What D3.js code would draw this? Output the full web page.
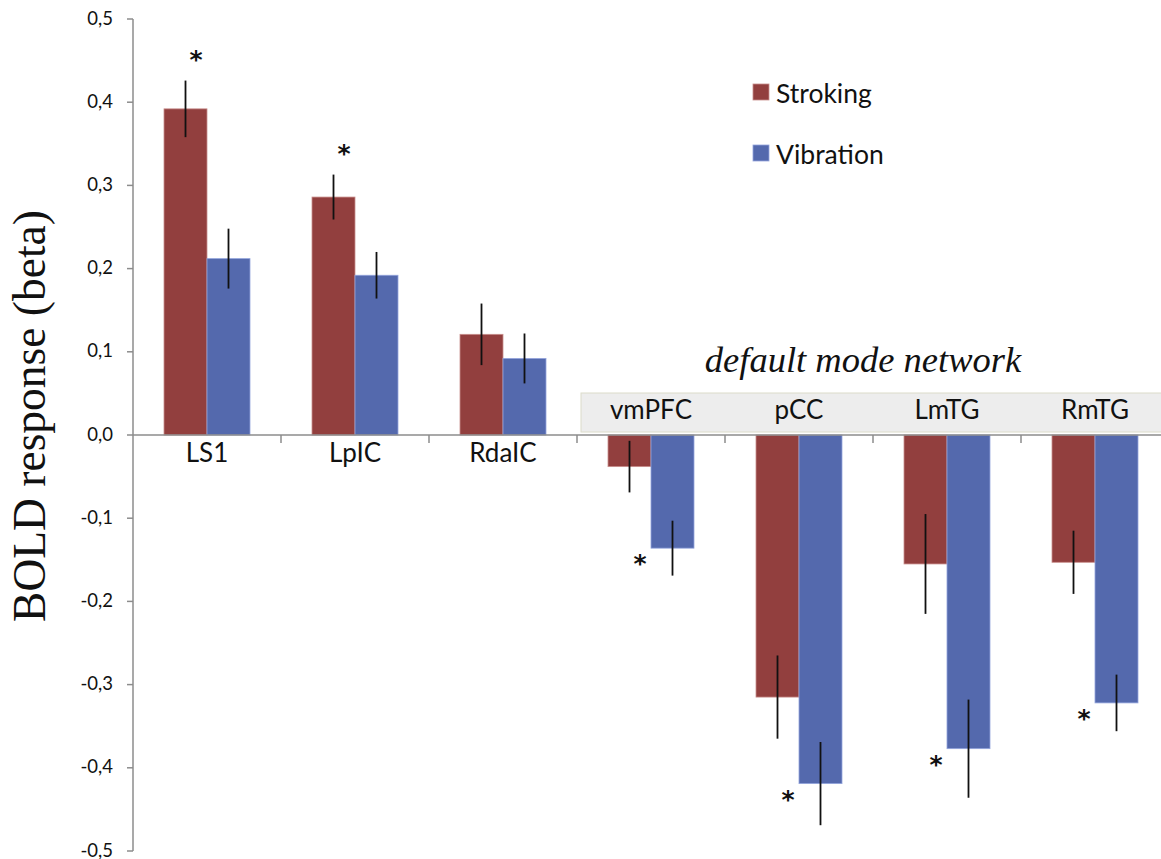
<!DOCTYPE html>
<html>
<head>
<meta charset="utf-8">
<script src="https://cdn.jsdelivr.net/npm/d3@7"></script>
<style>
  html, body { margin: 0; padding: 0; background: #fff; }
  svg { display: block; }
</style>
</head>
<body>
<svg id="chart" width="1161" height="859"></svg>
<script>
// ---- data ----
const categories = ["LS1", "LpIC", "RdaIC", "vmPFC", "pCC", "LmTG", "RmTG"];
const series = ["Stroking", "Vibration"];
const stroking = [0.392, 0.286, 0.121, -0.038, -0.315, -0.155, -0.153];
const vibration = [0.212, 0.192, 0.092, -0.136, -0.419, -0.377, -0.322];
const strokingErr = [0.034, 0.027, 0.037, 0.031, 0.050, 0.060, 0.038];
const vibrationErr = [0.036, 0.028, 0.030, 0.033, 0.050, 0.059, 0.034];
const significant = [true, true, false, true, true, true, true];
const dmnCategories = ["vmPFC", "pCC", "LmTG", "RmTG"];
const yTicks = [-0.5, -0.4, -0.3, -0.2, -0.1, 0.0, 0.1, 0.2, 0.3, 0.4, 0.5];
const yTitle = "BOLD response (beta)";
const groupTitle = "default mode network";

const colors = { Stroking: "#923f3e", Vibration: "#5469ad" };
const edges = { Stroking: "#c98e8c", Vibration: "#93a4dc" };

const svg = d3.select("#chart");
const sansFont = "Lato, 'Open Sans', sans-serif";

const y = d3.scaleLinear().domain([-0.5, 0.5]).range([851, 19]);
const x = d3.scaleBand().domain(categories).range([133, 1169]).padding(0);
const xs = d3.scaleBand().domain(series).range([0, x.bandwidth()]).paddingInner(0).paddingOuter(0.721);

const locale = d3.formatLocale({ decimal: ",", thousands: ".", grouping: [3], currency: ["", ""], minus: "-" });
const fmt = locale.format(".1f");

// ---- default mode network box ----
const dmnLeft = x(dmnCategories[0]) + 4;
svg.append("rect")
  .attr("x", dmnLeft).attr("y", 393)
  .attr("width", 1161 - dmnLeft + 10).attr("height", 39)
  .attr("fill", "#ededed").attr("stroke", "#dcdcca").attr("stroke-width", 1);

svg.append("text")
  .attr("x", 863)
  .attr("y", 372)
  .attr("text-anchor", "middle")
  .attr("font-family", "'Liberation Serif', 'Times New Roman', serif")
  .attr("font-style", "italic")
  .attr("font-size", 36.5)
  .attr("fill", "#111")
  .text(groupTitle);

// ---- bars ----
const rows = categories.map((c, i) => ({
  cat: c, i,
  vals: [
    { s: "Stroking", v: stroking[i], e: strokingErr[i] },
    { s: "Vibration", v: vibration[i], e: vibrationErr[i] }
  ]
}));

const g = svg.append("g");
const grp = g.selectAll("g.cat").data(rows).join("g")
  .attr("transform", d => `translate(${x(d.cat)},0)`);

grp.selectAll("rect").data(d => d.vals).join("rect")
  .attr("x", d => xs(d.s))
  .attr("width", xs.bandwidth())
  .attr("y", d => Math.min(y(d.v), y(0)))
  .attr("height", d => Math.abs(y(d.v) - y(0)))
  .attr("fill", d => colors[d.s])
  .attr("stroke", d => edges[d.s])
  .attr("stroke-width", 0.8);

grp.selectAll("line.err").data(d => d.vals).join("line")
  .attr("class", "err")
  .attr("x1", d => xs(d.s) + xs.bandwidth() / 2)
  .attr("x2", d => xs(d.s) + xs.bandwidth() / 2)
  .attr("y1", d => y(d.v + d.e))
  .attr("y2", d => y(d.v - d.e))
  .attr("stroke", "#111").attr("stroke-width", 1.8);

// ---- axes ----
const axisColor = "#8c8c8c";
svg.append("line")
  .attr("x1", 133).attr("x2", 133).attr("y1", y(0.5)).attr("y2", y(-0.5))
  .attr("stroke", axisColor).attr("stroke-width", 1.5);
svg.selectAll("line.ytick").data(yTicks).join("line")
  .attr("class", "ytick")
  .attr("x1", 127).attr("x2", 133)
  .attr("y1", d => y(d)).attr("y2", d => y(d))
  .attr("stroke", axisColor).attr("stroke-width", 1.5);
svg.selectAll("text.ylab").data(yTicks).join("text")
  .attr("class", "ylab")
  .attr("x", 113).attr("y", d => y(d) + 5.5)
  .attr("text-anchor", "end")
  .attr("font-family", sansFont).attr("font-size", 18.5)
  .attr("fill", "#111")
  .text(d => fmt(d));

svg.append("line")
  .attr("x1", 133).attr("x2", 1161).attr("y1", y(0)).attr("y2", y(0))
  .attr("stroke", axisColor).attr("stroke-width", 1.5);
svg.selectAll("line.xtick").data(categories.slice(1)).join("line")
  .attr("class", "xtick")
  .attr("x1", d => x(d)).attr("x2", d => x(d))
  .attr("y1", y(0)).attr("y2", y(0) + 8)
  .attr("stroke", axisColor).attr("stroke-width", 1.5);

svg.selectAll("text.xlab").data(categories).join("text")
  .attr("class", "xlab")
  .attr("x", d => x(d) + x.bandwidth() / 2)
  .attr("y", d => dmnCategories.includes(d) ? 419 : 462)
  .attr("text-anchor", "middle")
  .attr("font-family", sansFont).attr("font-size", 26)
  .attr("fill", "#111")
  .text(d => d);

// ---- y title ----
svg.append("text")
  .attr("transform", `translate(45,416) rotate(-90)`)
  .attr("text-anchor", "middle")
  .attr("font-family", "'Liberation Serif', 'Times New Roman', serif")
  .attr("font-size", 45.5)
  .attr("fill", "#111")
  .text(yTitle);

// ---- significance asterisks ----
const astSize = 25;
rows.forEach(d => {
  if (!significant[d.i]) return;
  const cx = x(d.cat) + x.bandwidth() / 2 - 11;
  let cy;
  if (d.vals[0].v > 0) {
    cy = y(d.vals[0].v + d.vals[0].e) - 26.5;
  } else {
    cy = y(d.vals[1].v) + 10;
  }
  svg.append("text")
    .attr("x", cx).attr("y", cy + astSize * 0.56)
    .attr("text-anchor", "middle")
    .attr("font-family", "'DejaVu Sans', sans-serif").attr("font-weight", "bold").attr("font-size", astSize)
    .attr("fill", "#111")
    .text("*");
});

// ---- legend ----
const legend = svg.append("g");
const legendY = [84, 145];
series.forEach((s, i) => {
  legend.append("rect")
    .attr("x", 753).attr("y", legendY[i]).attr("width", 16).attr("height", 16)
    .attr("fill", colors[s]).attr("stroke", edges[s]).attr("stroke-width", 0.8);
  legend.append("text")
    .attr("x", 776).attr("y", legendY[i] + 18.5)
    .attr("font-family", sansFont).attr("font-size", 26.5)
    .attr("fill", "#111")
    .text(s);
});
</script>
</body>
</html>
